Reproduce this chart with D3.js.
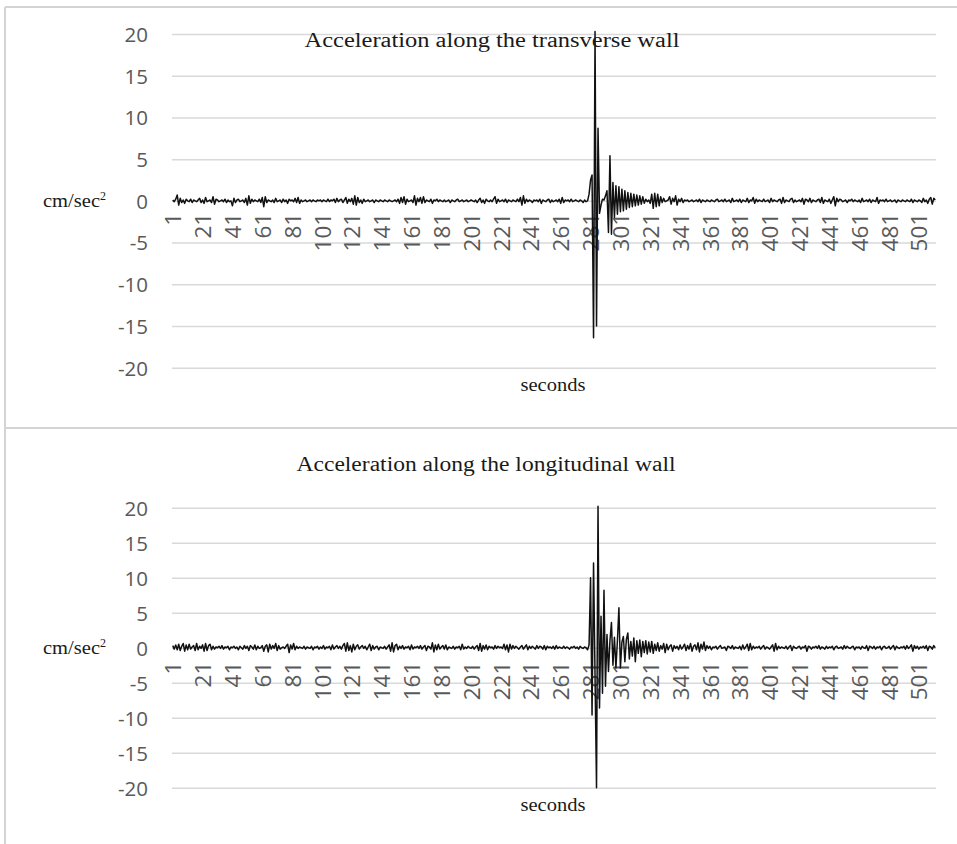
<!DOCTYPE html>
<html>
<head>
<meta charset="utf-8">
<script src="https://cdn.jsdelivr.net/npm/d3@7"></script>
<style>
  body { margin: 0; background: #fff; }
  svg { display: block; }
  .tick text { font-family: "Open Sans", sans-serif; font-size: 20.5px; fill: #595959; }
  .x-axis .tick text { font-size: 22.5px; }
  .serif { font-family: "Liberation Serif", "Times New Roman", serif; fill: #1a1a1a; }
</style>
</head>
<body>
<div id="chart"></div>
<script>
// acceleration readings, one per second (cm/sec2)
var transverse = [
  0.1, -0.1, 0.2, 0.7, -0.5, 0.3, -0.2, 0.1, -0.3, 0.2, 0.0, -0.1, 0.2, -0.2, 0.1, 0.0, -0.1, 0.1, 0.3, -0.2,
  0.1, -0.3, 0.4, -0.1, 0.0, 0.1, -0.2, 0.5, -0.4, 0.2, 0.1, -0.1, 0.0, 0.1, -0.1, 0.2, -0.2, 0.1, -0.1, 0.0,
  -0.6, 0.3, -0.2, 0.1, 0.2, -0.1, 0.0, 0.1, -0.2, 0.3, -0.5, 0.6, -0.3, 0.2, -0.1, 0.1, 0.0, -0.1, 0.2, -0.2,
  0.4, -0.7, 0.5, -0.2, 0.1, 0.0, -0.1, 0.1, -0.2, 0.3, -0.1, 0.0, 0.1, -0.2, 0.2, -0.1, 0.1, -0.3, 0.2, 0.0,
  0.1, -0.1, 0.3, -0.2, 0.4, -0.3, 0.1, -0.1, 0.0, 0.1, -0.1, 0.0, 0.1, -0.1, 0.1, 0.0, -0.1, 0.1, 0.0, 0.1,
  -0.1, 0.1, 0.0, -0.1, 0.2, -0.1, 0.1, 0.0, 0.2, -0.2, 0.3, -0.1, 0.1, 0.2, -0.2, 0.1, 0.4, -0.3, 0.2, -0.1,
  0.3, -0.4, 0.6, -0.5, 0.4, -0.2, 0.1, -0.3, 0.2, -0.1, 0.0, 0.1, -0.1, 0.0, 0.1, -0.2, 0.1, 0.0, -0.1, 0.1,
  0.0, -0.1, 0.1, 0.0, -0.1, 0.1, 0.0, -0.1, 0.0, 0.1, -0.1, 0.2, -0.3, 0.4, -0.2, 0.5, -0.4, 0.2, -0.1, 0.0,
  0.1, -0.2, 0.6, -0.5, 0.3, -0.1, 0.4, -0.3, 0.5, -0.2, 0.1, 0.0, -0.1, 0.2, -0.3, 0.1, 0.0, 0.2, -0.1, 0.1,
  0.0, -0.1, 0.1, -0.1, 0.0, 0.1, -0.2, 0.1, 0.0, -0.1, 0.1, 0.2, -0.1, 0.0, 0.1, -0.1, 0.0, 0.1, -0.1, 0.0,
  0.1, 0.0, -0.1, 0.1, -0.2, 0.1, 0.3, -0.2, 0.1, -0.3, 0.2, 0.0, -0.1, 0.1, -0.1, 0.2, 0.5, -0.3, 0.2, -0.1,
  0.0, 0.1, -0.1, 0.2, -0.2, 0.1, 0.0, -0.1, 0.1, 0.0, -0.1, 0.2, -0.1, 0.4, -0.5, 0.6, -0.3, 0.2, -0.1, 0.1,
  0.0, -0.2, 0.1, 0.0, 0.1, -0.1, 0.2, -0.3, 0.1, 0.0, -0.1, 0.1, 0.2, -0.2, 0.1, -0.1, 0.0, 0.1, -0.1, 0.2,
  -0.3, 0.4, -0.2, 0.1, 0.0, 0.1, -0.1, 0.2, -0.1, 0.0, 0.1, 0.0, -0.1, 0.1, 0.0, -0.2, 0.1, -0.1, 0.0, 0.8,
  2.5, 3.1, -16.4, 20.3, -15.0, 8.7, -1.5, -0.5, 0.2, 0.1, 0.6, 1.2, -3.8, 5.4, -4.0, 2.2, -2.0, 1.8, -1.6, 1.7,
  -1.3, 1.4, -1.2, 1.2, -1.0, 1.0, -0.8, 0.9, -0.7, 0.8, -0.6, 0.7, -0.5, 0.6, -0.4, 0.5, -0.3, 0.2, -0.1, 0.1,
  -0.3, 0.8, -0.9, 0.9, -0.7, 0.8, -0.6, 0.5, -0.2, 0.3, -0.1, 0.0, 0.1, 0.5, -0.4, 0.3, -0.1, 0.6, -0.5, 0.2,
  -0.1, 0.3, -0.2, 0.1, 0.0, 0.1, -0.1, 0.0, 0.1, -0.1, 0.0, 0.1, -0.1, 0.2, -0.2, 0.1, 0.0, -0.1, 0.1, 0.0,
  -0.1, 0.1, 0.0, -0.1, 0.1, 0.2, -0.1, 0.0, 0.1, -0.1, 0.2, -0.1, 0.0, 0.1, -0.2, 0.3, -0.1, 0.0, 0.1, -0.1,
  0.2, -0.2, 0.1, 0.0, -0.1, 0.3, -0.2, 0.1, 0.0, 0.4, -0.3, 0.2, -0.1, 0.1, 0.0, -0.1, 0.2, -0.1, 0.0, 0.1,
  -0.2, 0.3, -0.1, 0.1, 0.0, -0.1, 0.1, 0.2, -0.3, 0.4, -0.2, 0.1, 0.0, -0.1, 0.2, 0.3, -0.2, 0.1, -0.1, 0.0,
  0.1, -0.1, 0.3, -0.4, 0.2, 0.1, -0.1, 0.3, -0.2, 0.1, 0.0, -0.1, 0.1, 0.2, -0.2, 0.4, -0.3, 0.1, 0.0, -0.1,
  0.2, -0.3, 0.1, 0.5, -0.6, 0.3, -0.1, 0.2, 0.1, -0.1, 0.0, 0.1, -0.2, 0.1, 0.0, 0.2, -0.1, 0.1, 0.0, -0.1,
  0.1, -0.2, 0.3, -0.1, 0.0, 0.1, -0.1, 0.2, -0.2, 0.1, 0.0, -0.1, 0.4, -0.3, 0.1, 0.0, 0.1, -0.1, 0.2, -0.1,
  0.0, 0.1, -0.1, 0.0, 0.1, -0.2, 0.1, 0.0, -0.1, 0.1, 0.0, -0.1, 0.1, 0.0, -0.1, 0.2, -0.2, 0.1, 0.0, -0.1,
  0.1, 0.0, -0.2, 0.3, -0.1, 0.1, -0.3, 0.2, 0.4, -0.4, 0.3, 0.1
];

var longitudinal = [
  0.3, -0.2, 0.4, -0.3, 0.5, -0.4, 0.2, 0.6, -0.5, 0.4, -0.3, 0.5, -0.2, 0.1, 0.3, -0.4, 0.6, -0.3, 0.2, -0.1,
  0.4, -0.5, 0.6, -0.4, 0.3, 0.5, -0.3, 0.2, -0.2, 0.1, 0.0, 0.2, -0.1, 0.3, -0.2, 0.1, 0.0, 0.2, -0.3, 0.1,
  0.0, 0.2, -0.1, 0.1, -0.3, 0.2, 0.0, -0.2, 0.3, -0.1, 0.2, -0.4, 0.3, 0.1, -0.2, 0.4, -0.3, 0.2, -0.1, 0.0,
  0.3, -0.5, 0.2, 0.4, -0.6, 0.5, -0.2, 0.3, -0.1, 0.6, -0.4, 0.3, -0.2, 0.0, 0.1, -0.1, 0.2, 0.5, -0.7, 0.4,
  -0.2, 0.6, -0.3, 0.2, -0.1, 0.1, 0.0, -0.1, 0.2, -0.2, 0.1, 0.0, -0.1, 0.2, -0.3, 0.1, 0.0, 0.2, -0.2, 0.1,
  -0.1, 0.3, -0.2, 0.1, 0.0, 0.2, -0.3, 0.4, -0.2, 0.1, 0.3, -0.1, 0.2, -0.2, 0.3, 0.6, -0.5, 0.7, -0.4, 0.3,
  -0.6, 0.5, -0.3, 0.2, 0.4, -0.2, 0.1, 0.3, -0.1, 0.2, -0.3, 0.1, 0.5, -0.4, 0.3, -0.2, 0.1, 0.2, -0.3, 0.1,
  0.0, -0.1, 0.2, -0.2, 0.1, 0.4, -0.5, 0.7, -0.6, 0.3, 0.5, -0.3, 0.2, -0.1, 0.3, -0.2, 0.1, 0.0, 0.2, -0.3,
  0.4, -0.2, 0.1, 0.0, 0.2, -0.1, 0.3, -0.2, 0.1, 0.3, -0.4, 0.2, 0.1, -0.2, 0.7, -0.6, 0.4, -0.3, 0.5, -0.2,
  0.1, 0.3, -0.2, 0.4, -0.3, 0.1, 0.0, -0.1, 0.2, -0.2, 0.1, 0.0, 0.2, -0.3, 0.5, -0.2, 0.1, -0.1, 0.2, 0.0,
  -0.1, 0.2, -0.2, 0.1, 0.3, -0.4, 0.6, -0.5, 0.3, -0.2, 0.4, -0.3, 0.2, 0.0, 0.1, -0.2, 0.3, -0.1, 0.2, 0.0,
  0.1, -0.1, 0.5, -0.3, 0.4, -0.6, 0.5, -0.2, 0.3, -0.1, 0.2, 0.0, -0.2, 0.1, 0.3, -0.2, 0.1, 0.4, -0.3, 0.2,
  -0.1, 0.2, 0.0, -0.2, 0.3, -0.1, 0.2, 0.1, -0.2, 0.3, -0.3, 0.2, 0.0, 0.1, -0.1, 0.2, -0.2, 0.3, -0.1, 0.1,
  0.0, -0.1, 0.2, -0.1, 0.1, 0.0, -0.2, 0.1, 0.0, 0.2, -0.1, 0.1, -0.2, 0.2, 0.0, -0.1, 0.1, 0.0, -0.3, 0.4,
  10.0, -9.6, 12.1, -4.0, -20.0, 20.2, -8.6, 4.5, -6.5, 8.2, -5.5, 1.9, -3.4, 1.0, 3.6, -2.5, 1.5, -2.9, 1.0, 5.7,
  -2.9, 0.8, 1.6, -2.0, 1.2, 2.1, -1.6, 0.9, -1.2, 1.4, -2.0, 1.0, -0.8, 1.1, -1.3, 0.9, -0.7, 1.0, -0.9, 0.8,
  -0.6, 0.9, -0.8, 0.5, -0.4, 0.7, -0.5, 0.3, -0.2, 0.6, -0.7, 0.5, -0.3, 0.2, 0.4, -0.5, 0.3, -0.1, 0.2, -0.3,
  0.4, -0.2, 0.1, 0.5, -0.4, 0.3, -0.2, 0.6, -0.5, 0.2, 0.4, -0.3, 0.7, -0.6, 0.5, -0.2, 0.8, -0.4, 0.3, -0.1,
  0.2, -0.3, 0.1, 0.0, 0.2, -0.2, 0.1, 0.3, -0.1, 0.0, 0.1, -0.4, 0.2, 0.1, -0.1, 0.3, -0.2, 0.1, 0.0, -0.1,
  0.2, -0.3, 0.4, -0.2, 0.1, 0.5, -0.4, 0.6, -0.3, 0.2, -0.1, 0.1, 0.0, 0.2, -0.2, 0.1, 0.3, -0.2, 0.1, 0.0,
  -0.2, 0.1, 0.4, -0.5, 0.6, -0.3, 0.2, -0.1, 0.1, 0.0, -0.1, 0.2, -0.2, 0.1, 0.3, -0.4, 0.2, 0.0, -0.1, 0.1,
  0.2, -0.2, 0.1, 0.0, 0.3, -0.5, 0.2, 0.1, -0.2, 0.1, 0.0, 0.2, -0.1, 0.3, -0.2, 0.1, 0.0, -0.2, 0.2, -0.1,
  0.1, 0.0, 0.2, -0.3, 0.1, 0.2, -0.1, 0.0, 0.1, -0.2, 0.3, -0.1, 0.2, 0.0, -0.1, 0.1, 0.2, -0.3, 0.1, 0.0,
  0.1, -0.2, 0.2, 0.0, -0.1, 0.3, -0.4, 0.2, 0.1, -0.1, 0.2, -0.2, 0.1, 0.0, 0.2, -0.3, 0.1, 0.2, -0.1, 0.0,
  0.2, -0.2, 0.1, 0.3, -0.3, 0.2, 0.0, -0.1, 0.1, 0.0, 0.2, -0.2, 0.3, -0.1, 0.1, 0.4, -0.5, 0.3, -0.1, 0.2,
  -0.2, 0.1, 0.0, 0.2, -0.1, 0.3, -0.4, 0.2, 0.1, -0.2, 0.3, 0.0
];

// category labels shown on the time axis, and value ticks
var xTickLabels = [1, 21, 41, 61, 81, 101, 121, 141, 161, 181, 201, 221, 241, 261, 281,
                   301, 321, 341, 361, 381, 401, 421, 441, 461, 481, 501];
var yTicks = [20, 15, 10, 5, 0, -5, -10, -15, -20];

var width = 957, height = 844;
var plotLeft = 172, plotRight = 936;

var svg = d3.select("#chart").append("svg")
    .attr("width", width)
    .attr("height", height);

// chart frames (light gray borders)
svg.append("path")
    .attr("d", "M5,7H957M5,7V844M5,428H957")
    .attr("fill", "none")
    .attr("stroke", "#d4d4d4")
    .attr("stroke-width", 2);

function drawPanel(values, title, layout) {
    var g = svg.append("g");

    var x = d3.scalePoint()
        .domain(d3.range(1, values.length + 1))
        .range([plotLeft, plotRight])
        .padding(0.5);

    var y = d3.scaleLinear()
        .domain([-20, 20])
        .range([layout.bottom, layout.top]);

    // y axis with gridlines (plain hyphen for negatives, like the original)
    var yAxis = g.append("g")
        .attr("transform", "translate(" + plotLeft + ",0)")
        .call(d3.axisLeft(y)
            .tickValues(yTicks)
            .tickFormat(function(d) { return String(d); })
            .tickSize(-(plotRight - plotLeft))
            .tickPadding(24));
    yAxis.select(".domain").remove();
    yAxis.selectAll(".tick line").attr("stroke", "#d9d9d9").attr("stroke-width", 1.5);
    yAxis.selectAll(".tick text").attr("dy", "0.36em");

    // category axis sitting on the zero line
    var xAxis = g.append("g")
        .attr("class", "x-axis")
        .attr("transform", "translate(0," + y(0) + ")")
        .call(d3.axisBottom(x).tickValues(xTickLabels).tickSize(0));
    xAxis.select(".domain").remove();
    xAxis.selectAll(".tick text")
        .attr("transform", "rotate(-90)")
        .attr("x", -layout.labelGap)
        .attr("y", 0)
        .attr("dy", "0.36em")
        .style("text-anchor", "end");

    // the trace
    var line = d3.line()
        .x(function(d, i) { return x(i + 1); })
        .y(function(d) { return y(d); });

    g.append("path")
        .datum(values)
        .attr("fill", "none")
        .attr("stroke", "#111")
        .attr("stroke-width", 1.5)
        .attr("stroke-linejoin", "round")
        .attr("d", line);

    // title
    g.append("text")
        .attr("class", "serif")
        .attr("x", layout.titleX)
        .attr("y", layout.titleY)
        .attr("text-anchor", "middle")
        .attr("font-size", 20)
        .attr("textLength", layout.titleW)
        .attr("lengthAdjust", "spacingAndGlyphs")
        .text(title);

    // axis titles
    g.append("text")
        .attr("class", "serif")
        .attr("x", 553)
        .attr("y", layout.secondsY)
        .attr("text-anchor", "middle")
        .attr("font-size", 18)
        .attr("textLength", 65)
        .attr("lengthAdjust", "spacingAndGlyphs")
        .text("seconds");

    var unit = g.append("text")
        .attr("class", "serif")
        .attr("x", 43)
        .attr("y", y(0) + 6)
        .attr("font-size", 18);
    unit.append("tspan")
        .attr("textLength", 57)
        .attr("lengthAdjust", "spacingAndGlyphs")
        .text("cm/sec");
    unit.append("tspan")
        .attr("dy", -7)
        .attr("font-size", 12)
        .text("2");
}

drawPanel(transverse, "Acceleration along the transverse wall",
    { top: 34, bottom: 367.7, labelGap: 12, titleX: 492, titleY: 47, titleW: 375, secondsY: 391 });
drawPanel(longitudinal, "Acceleration along the longitudinal wall",
    { top: 507.7, bottom: 787.7, labelGap: 14, titleX: 486, titleY: 471, titleW: 379, secondsY: 811 });
</script>
</body>
</html>
